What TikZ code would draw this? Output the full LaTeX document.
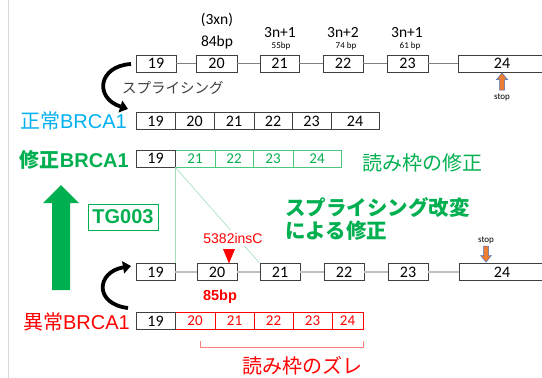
\documentclass[tikz,border=0pt]{standalone}
\usepackage{fontspec}
\setmainfont{Carlito}
\newfontfamily\jp{Noto Sans CJK JP}
\newfontfamily\ar{Liberation Sans}
\usetikzlibrary{arrows.meta}
\definecolor{gr}{HTML}{00B050}
\definecolor{grl}{HTML}{4CC77F}
\definecolor{grline}{HTML}{9FE2BC}
\definecolor{cy}{HTML}{00B0F0}
\definecolor{rd}{HTML}{FF0000}
\definecolor{rdl}{HTML}{FF8080}
\definecolor{boxc}{HTML}{404040}
\definecolor{orng}{HTML}{ED7D31}
\definecolor{blu}{HTML}{4472C4}
\definecolor{dg}{HTML}{404040}
\tikzset{
  box/.style={draw=boxc, line width=0.8pt, minimum height=17, inner sep=0,
    font=\fontsize{16}{16}\selectfont, text=black},
  gbox/.style={box, draw=grl, text=gr, font=\fontsize{15}{15}\selectfont},
  rbox/.style={box, draw=rd, text=rd, font=\fontsize{15}{15}\selectfont},
  lbl/.style={inner sep=0},
  thinlink/.style={draw=gray, line width=0.6pt},
  thicklink/.style={draw=black!25, line width=1.6pt},
  curvearrow/.style={line width=3.8pt, -{Triangle[length=8pt,width=12pt]}},
  stoparrow/.style={fill=orng, draw=blu, line width=0.5pt},
  glink/.style={draw=grline, line width=0.6pt},
  toplbl/.style={lbl, font=\fontsize{15.5}{15.5}\selectfont},
  smalllbl/.style={lbl, font=\fontsize{9}{9}\selectfont}
}
\begin{document}
\begin{tikzpicture}[x=1pt,y=-1pt]
\clip (0,0) rectangle (542,378);
\fill[white] (0,0) rectangle (542,378);
\draw[black!15, line width=0.8pt] (8,0) -- (8,378);

% top genomic row
\node[box, minimum width=40] (t19) at (156,63.5) {19};
\node[box, minimum width=41] (t20) at (216.5,63.5) {20};
\node[box, minimum width=39] (t21) at (279.5,63.5) {21};
\node[box, minimum width=40] (t22) at (343,63.5) {22};
\node[box, minimum width=41] (t23) at (407.5,63.5) {23};
\node[box, minimum width=88] (t24) at (502,63.5) {24};
\foreach \a/\b in {t19/t20,t20/t21,t21/t22,t22/t23,t23/t24}
  \draw[thinlink] (\a.east) -- (\b.west);

\node[toplbl] (l3xn) at (217,20) {(3xn)};
\node[toplbl] (l84) at (217,42) {84bp};
\node[toplbl] (l21a) at (280,33) {3n+1};
\node[smalllbl] (l21b) at (281,46) {55bp};
\node[toplbl] (l22a) at (343,33) {3n+2};
\node[smalllbl] (l22b) at (346,46) {74 bp};
\node[toplbl] (l23a) at (407,33) {3n+1};
\node[smalllbl] (l23b) at (410,46) {61 bp};

% stop arrow top
\filldraw[stoparrow] (502,73) -- (507.5,79.5) -- (504.5,79.5) -- (504.5,90) -- (499.5,90) -- (499.5,79.5) -- (496.5,79.5) -- cycle;
\node[smalllbl] (stop1) at (502,97) {stop};

% splicing arrow top
\coordinate (sa1) at (131,64);
\coordinate (sa2) at (128,109);
\draw[curvearrow] (sa1) .. controls (98,66) and (94,98) .. (sa2);
\node[lbl, anchor=west, text=dg, font=\jp\fontsize{14.5}{14.5}\selectfont] (splice) at (122,88) {スプライシング};

% normal row
\node[lbl, anchor=east, text=cy, font=\fontsize{20}{20}\selectfont] (normal) at (127,121) {{\jp 正常}{\ar BRCA1}};
\node[box, minimum width=39] (n19) at (155.5,121) {19};
\node[box, minimum width=39] (n20) at (194.5,121) {20};
\node[box, minimum width=40] (n21) at (234,121) {21};
\node[box, minimum width=38] (n22) at (273,121) {22};
\node[box, minimum width=39] (n23) at (311.5,121) {23};
\node[box, minimum width=48] (n24) at (355,121) {24};

% modified row
\node[lbl, anchor=east, text=gr, font=\bfseries\fontsize{20}{20}\selectfont] (modified) at (129,160) {{\jp\bfseries 修正}{\ar\bfseries BRCA1}};
\node[gbox, minimum width=40] (m21) at (195,158.5) {21};
\node[gbox, minimum width=38] (m22) at (234,158.5) {22};
\node[gbox, minimum width=40] (m23) at (273,158.5) {23};
\node[gbox, minimum width=48] (m24) at (317,158.5) {24};
\node[box, minimum width=39] (m19) at (155.5,158.5) {19};
\node[lbl, anchor=west, text=gr, font=\jp\fontsize{20}{20}\selectfont] (fixlbl) at (362,163) {読み枠の修正};

% big green arrow
\fill[gr] (61,185) -- (79,203) -- (70,203) -- (70,290) -- (52,290) -- (52,203) -- (43,203) -- cycle;
\node[draw=gr, line width=0.9pt, minimum width=70, minimum height=26, inner sep=0, text=gr, font=\ar\bfseries\fontsize{20}{20}\selectfont] (tg) at (123,217) {TG003};

\node[lbl, anchor=west, text=gr, font=\jp\bfseries\fontsize{20.5}{20.5}\selectfont] (mod1) at (285,208) {スプライシング改変};
\node[lbl, anchor=west, text=gr, font=\jp\bfseries\fontsize{20.5}{20.5}\selectfont] (mod2) at (285,231) {による修正};

% bottom genomic row
\node[box, minimum width=39] (b19) at (155.5,272) {19};
\node[box, minimum width=40] (b20) at (217,272) {20};
\node[box, minimum width=40] (b21) at (280,272) {21};
\node[box, minimum width=40] (b22) at (344,272) {22};
\node[box, minimum width=40] (b23) at (408,272) {23};
\node[box, minimum width=86] (b24) at (502,272) {24};
\foreach \a/\b in {b19/b20,b20/b21,b21/b22,b22/b23,b23/b24}
  \draw[thicklink] (\a.east) -- (\b.west);

% green guide lines
\draw[glink] (m19.south east) -- (b19.north east);
\draw[glink] (m19.south east) -- (b21.north west);
\node[fill=white, inner sep=3pt, text=rd, font=\ar\fontsize{14}{14}\selectfont] (ins) at (233,238) {5382insC};
\fill[rd] (223,249) -- (235,249) -- (229,263.5) -- cycle;

% stop arrow bottom
\node[smalllbl] (stop2) at (486,240) {stop};
\filldraw[stoparrow] (486,262) -- (491.5,255.5) -- (488.5,255.5) -- (488.5,246) -- (483.5,246) -- (483.5,255.5) -- (480.5,255.5) -- cycle;

\node[lbl, text=rd, font=\ar\bfseries\fontsize{14.5}{14.5}\selectfont] (bp85) at (220,297) {85bp};

% splicing arrow bottom
\coordinate (sb1) at (128,308);
\coordinate (sb2) at (131,266);
\draw[curvearrow] (sb1) .. controls (94,304) and (96,272) .. (sb2);

% abnormal row
\node[lbl, anchor=east, text=rd, font=\fontsize{20}{20}\selectfont] (abn) at (130,322) {{\jp 異常}{\ar BRCA1}};
\node[rbox, minimum width=40] (a20) at (195,321) {20};
\node[rbox, minimum width=39] (a21) at (234.5,321) {21};
\node[rbox, minimum width=39] (a22) at (273.5,321) {22};
\node[rbox, minimum width=39] (a23) at (312.5,321) {23};
\node[rbox, minimum width=31] (a24) at (347.5,321) {24};
\node[box, minimum width=39] (a19) at (155.5,321) {19};

\coordinate (br1) at (200,341);
\coordinate (br2) at (363,341);
\draw[rdl, line width=0.8pt] (br1) -- ++(0,6) -| (br2);
\node[lbl, anchor=west, text=rd, font=\jp\fontsize{20}{20}\selectfont] (shift) at (242,366) {読み枠のズレ};
\end{tikzpicture}
\end{document}
